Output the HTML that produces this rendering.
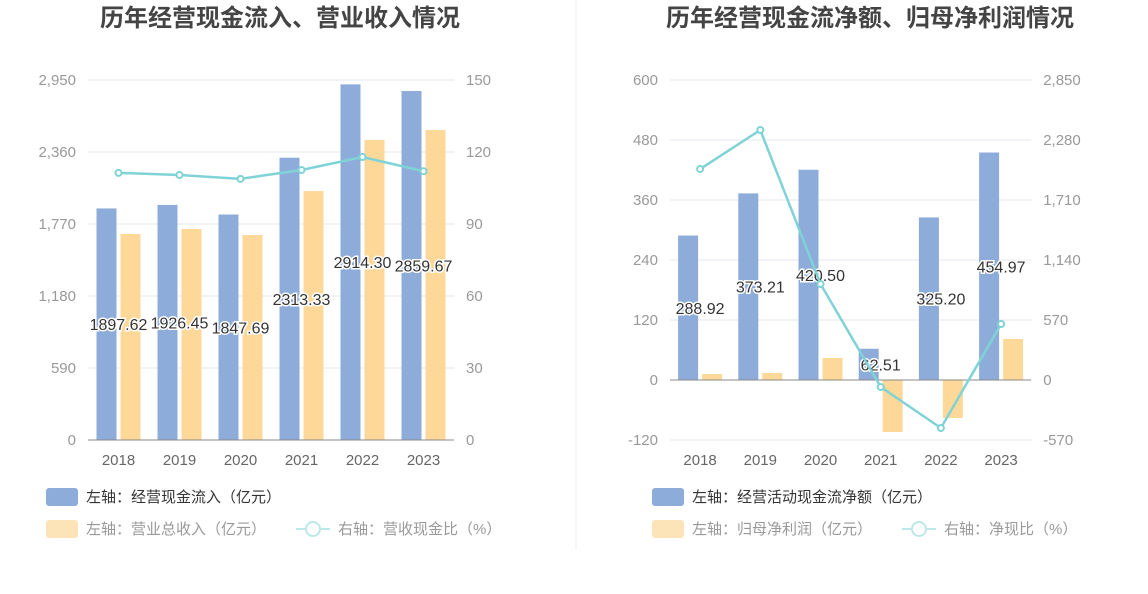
<!DOCTYPE html>
<html><head><meta charset="utf-8">
<style>
body{margin:0;background:#fff;font-family:"Liberation Sans","Noto Sans CJK SC",sans-serif;}
svg text{font-family:"Liberation Sans","Noto Sans CJK SC",sans-serif;}
</style></head><body>
<svg id="s" width="1148" height="589" xmlns="http://www.w3.org/2000/svg">
<rect width="1148" height="589" fill="#fff"/>
<line x1="576" y1="0" x2="576" y2="550" stroke="#eee"/>
<text x="280" y="26" text-anchor="middle" font-size="24" font-weight="bold" fill="#444">历年经营现金流入、营业收入情况</text>
<text x="870" y="26" text-anchor="middle" font-size="24" font-weight="bold" fill="#444">历年经营现金流净额、归母净利润情况</text>
<g id="L"></g><g id="R"></g>
<g>
<rect x="46" y="488" width="32" height="18" rx="3" fill="#8eacd9"/>
<text x="86" y="502" font-size="15" fill="#333">左轴：经营现金流入（亿元）</text>
<rect x="46" y="520" width="32" height="18" rx="3" fill="#fde3b8"/>
<text x="86" y="534" font-size="15" fill="#999">左轴：营业总收入（亿元）</text>
<line x1="296" y1="529" x2="330" y2="529" stroke="#bde7ea" stroke-width="2"/><circle cx="313" cy="529" r="7" fill="#fff" stroke="#bde7ea" stroke-width="2"/>
<text x="338" y="534" font-size="15" fill="#999">右轴：营收现金比（%）</text>
</g>
<g>
<rect x="652" y="488" width="32" height="18" rx="3" fill="#8eacd9"/>
<text x="692" y="502" font-size="15" fill="#333">左轴：经营活动现金流净额（亿元）</text>
<rect x="652" y="520" width="32" height="18" rx="3" fill="#fde3b8"/>
<text x="692" y="534" font-size="15" fill="#999">左轴：归母净利润（亿元）</text>
<line x1="902" y1="529" x2="936" y2="529" stroke="#bde7ea" stroke-width="2"/><circle cx="919" cy="529" r="7" fill="#fff" stroke="#bde7ea" stroke-width="2"/>
<text x="944" y="534" font-size="15" fill="#999">右轴：净现比（%）</text>
</g>
</svg>
<script>
const years=["2018","2019","2020","2021","2022","2023"];
const inflow=[1897.62,1926.45,1847.69,2313.33,2914.30,2859.67];
const revenue=[1688,1729,1680,2040,2458,2540];
const revRatio=[111.3,110.4,108.8,112.5,117.9,112];
const leftTicks=[0,590,1180,1770,2360,2950];
const leftRightTicks=[0,30,60,90,120,150];
const netCash=[288.92,373.21,420.50,62.51,325.20,454.97];
const netProfit=[12,14,44,-104,-76,82];
const cashRatio=[2004,2375,912,-66,-456,532];
const rTicks=[-120,0,120,240,360,480,600];
const rRightTicks=[-570,0,570,1140,1710,2280,2850];
const NS="http://www.w3.org/2000/svg";
function mk(p,t,a,txt){const e=document.createElementNS(NS,t);for(const k in a)e.setAttribute(k,a[k]);if(txt!=null)e.textContent=txt;p.appendChild(e);return e;}
function chart(g,o){
  const y=v=>o.y0-(v-o.min)/(o.max-o.min)*(o.y0-o.y1);
  const y2=v=>o.y0-(v-o.rmin)/(o.rmax-o.rmin)*(o.y0-o.y1);
  const x=i=>o.x0+(i+0.5)*o.step;
  o.ticks.forEach((t,i)=>{
    const l=mk(g,'line',{x1:o.x0,x2:o.x0+o.step*6,y1:y(t),y2:y(t),stroke:'#e3e7ef'});
    
    
    const a=mk(g,'text',{x:o.x0-12,y:y(t)+5,'text-anchor':'end','font-size':15,fill:'#999'},o.tl[i]);
    
    
    const b=mk(g,'text',{x:o.x0+o.step*6+12,y:y2(o.rt[i])+5,'font-size':15,fill:'#999'},o.rtl[i]);
    
    
  });
  years.forEach((yr,i)=>{
    const v=o.a[i];
    const r=mk(g,'rect',{x:x(i)-22,y:Math.min(y(v),y(0)),width:20,height:Math.abs(y(v)-y(0)),fill:'#8eacd9'});
    
    
    const w=o.b[i];
    const r2=mk(g,'rect',{x:x(i)+2,y:Math.min(y(w),y(0)),width:20,height:Math.abs(y(w)-y(0)),fill:'#fed899'});
    
    
    const t=mk(g,'text',{x:x(i),y:y(v/2)+6,'text-anchor':'middle','font-size':16,fill:'#333',stroke:'#fff','stroke-width':3,'paint-order':'stroke'},v.toFixed(2));
    
    
    const xl=mk(g,'text',{x:x(i),y:465,'text-anchor':'middle','font-size':15,fill:'#666'},yr);
    
    
  });
  const ax=mk(g,'line',{x1:o.x0,x2:o.x0+o.step*6,y1:y(0),y2:y(0),stroke:'#888'});
  
  
  const pl=mk(g,'polyline',{points:o.c.map((v,i)=>x(i)+','+y2(v)).join(' '),fill:'none',stroke:'#7fd3d6','stroke-width':2.5});
  
  
  o.c.forEach((v,i)=>{const c=mk(g,'circle',{cx:x(i),cy:y2(v),r:3,fill:'#fff',stroke:'#7fd3d6','stroke-width':2});
    
    });
}
chart(document.getElementById('L'),{x0:88,step:61,y0:440,y1:80,min:0,max:2950,rmin:0,rmax:150,ticks:leftTicks,tl:["0","590","1,180","1,770","2,360","2,950"],rt:leftRightTicks,rtl:leftRightTicks.map(String),a:inflow,b:revenue,c:revRatio,n1:'cash-inflow',n2:'revenue',n3:'revenue-cash-ratio'});
chart(document.getElementById('R'),{x0:670,step:60.2,y0:440,y1:80,min:-120,max:600,rmin:-570,rmax:2850,ticks:rTicks,tl:rTicks.map(String),rt:rRightTicks,rtl:["-570","0","570","1,140","1,710","2,280","2,850"],a:netCash,b:netProfit,c:cashRatio,n1:'net-cash',n2:'net-profit',n3:'net-cash-ratio'});
</script>
</body></html>
